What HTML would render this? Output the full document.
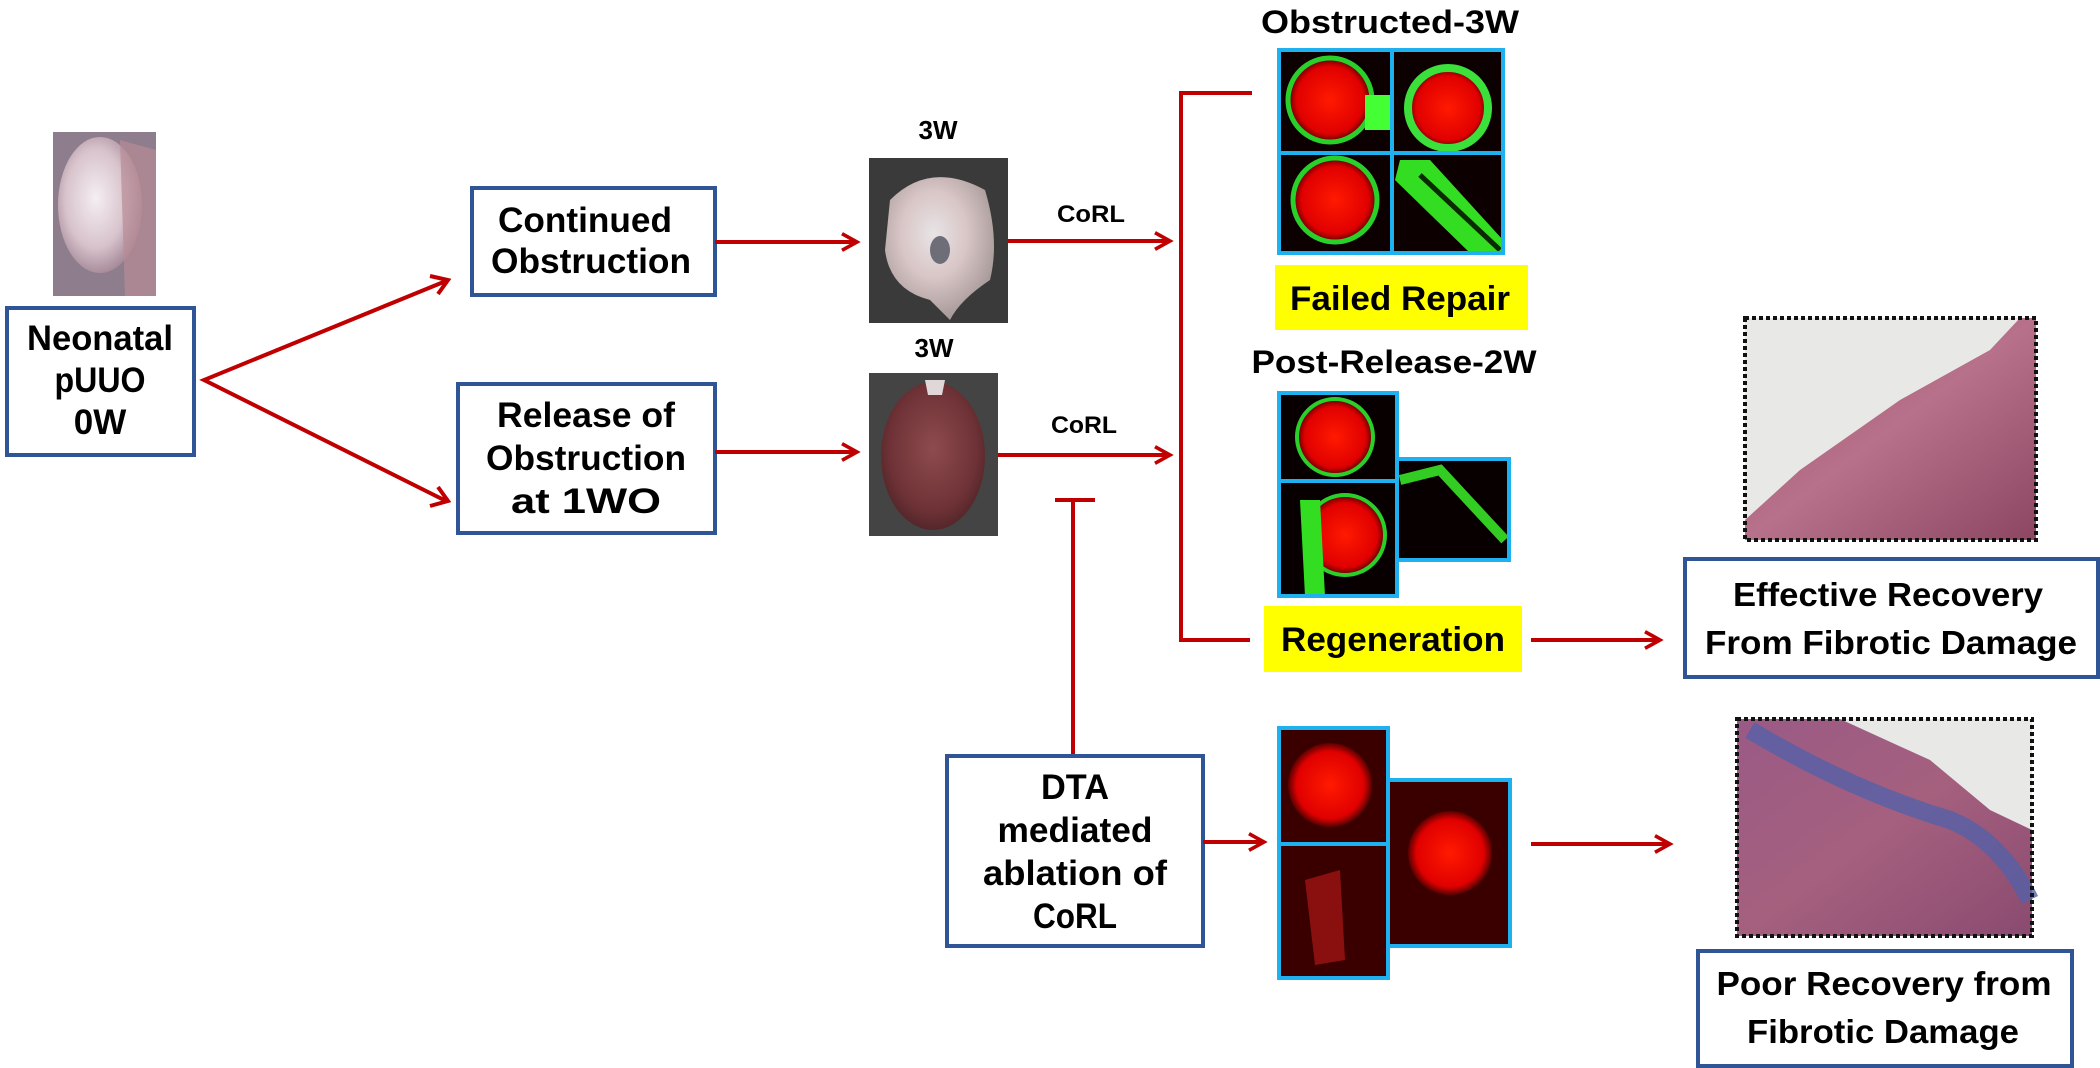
<!DOCTYPE html>
<html><head><meta charset="utf-8"><style>
html,body{margin:0;padding:0;background:#fff;}
svg{display:block;}
text{font-family:"Liberation Sans",Arial,sans-serif;font-weight:bold;fill:#000;}
</style></head><body>
<svg width="2100" height="1068" viewBox="0 0 2100 1068" xmlns="http://www.w3.org/2000/svg">
<defs>
<marker id="ah" viewBox="0 0 12 12" refX="10" refY="6" markerWidth="5" markerHeight="5" orient="auto" markerUnits="strokeWidth">
<path d="M1,1 L10,6 L1,11" fill="none" stroke="#c00000" stroke-width="2.2"/>
</marker>
<radialGradient id="k0" cx="0.45" cy="0.45" r="0.6"><stop offset="0" stop-color="#f4eef2"/><stop offset="0.6" stop-color="#d8c3cc"/><stop offset="1" stop-color="#9d8090"/></radialGradient>
<radialGradient id="k1" cx="0.45" cy="0.4" r="0.6"><stop offset="0" stop-color="#e8e4e6"/><stop offset="0.5" stop-color="#d9c6c6"/><stop offset="1" stop-color="#a89a9a"/></radialGradient>
<radialGradient id="k2" cx="0.5" cy="0.45" r="0.6"><stop offset="0" stop-color="#8e4b4e"/><stop offset="0.7" stop-color="#6e3236"/><stop offset="1" stop-color="#4a2226"/></radialGradient>
<radialGradient id="rg" cx="0.5" cy="0.5" r="0.5"><stop offset="0" stop-color="#ff1a00"/><stop offset="0.8" stop-color="#e00000"/><stop offset="1" stop-color="#5a0000"/></radialGradient>
<linearGradient id="he" x1="0" y1="0" x2="1" y2="1"><stop offset="0" stop-color="#a4506a"/><stop offset="0.5" stop-color="#b7718a"/><stop offset="1" stop-color="#8d4662"/></linearGradient>
<linearGradient id="he2" x1="0" y1="0" x2="1" y2="1"><stop offset="0" stop-color="#9a5a86"/><stop offset="0.5" stop-color="#a5607e"/><stop offset="1" stop-color="#8a4a70"/></linearGradient>
</defs>

<!-- Left photo -->
<rect x="53" y="132" width="103" height="164" fill="#8e7d8c"/>
<ellipse cx="100" cy="205" rx="42" ry="68" fill="url(#k0)"/>
<path d="M120,140 L156,150 L156,296 L125,296 Z" fill="#b88c96" opacity="0.7"/>

<!-- Neonatal box -->
<rect x="7" y="308" width="187" height="147" fill="#fff" stroke="#2f5597" stroke-width="4"/>
<text x="100" y="350" font-size="35" text-anchor="middle" textLength="146" lengthAdjust="spacingAndGlyphs">Neonatal</text>
<text x="100" y="392" font-size="35" text-anchor="middle" textLength="91" lengthAdjust="spacingAndGlyphs">pUUO</text>
<text x="100" y="434" font-size="35" text-anchor="middle">0W</text>

<!-- Fork arrows -->
<polyline points="446,281 204,380 446,501" fill="none" stroke="#c00000" stroke-width="4"/>
<path d="M430,276 L448,280 L438,294" fill="none" stroke="#c00000" stroke-width="4"/>
<path d="M430,506 L448,501 L438,487" fill="none" stroke="#c00000" stroke-width="4"/>

<!-- Continued box -->
<rect x="472" y="188" width="243" height="107" fill="#fff" stroke="#2f5597" stroke-width="4"/>
<text x="585" y="232" font-size="35" text-anchor="middle" textLength="174" lengthAdjust="spacingAndGlyphs">Continued</text>
<text x="591" y="273" font-size="35" text-anchor="middle" textLength="200" lengthAdjust="spacingAndGlyphs">Obstruction</text>

<!-- Release box -->
<rect x="458" y="384" width="257" height="149" fill="#fff" stroke="#2f5597" stroke-width="4"/>
<text x="586" y="427" font-size="35" text-anchor="middle" textLength="178" lengthAdjust="spacingAndGlyphs">Release of</text>
<text x="586" y="470" font-size="35" text-anchor="middle" textLength="200" lengthAdjust="spacingAndGlyphs">Obstruction</text>
<text x="586" y="513" font-size="35" text-anchor="middle" textLength="150" lengthAdjust="spacingAndGlyphs">at 1WO</text>

<!-- arrows to photos -->
<line x1="715" y1="242" x2="857" y2="242" stroke="#c00000" stroke-width="4" marker-end="url(#ah)"/>
<line x1="715" y1="452" x2="857" y2="452" stroke="#c00000" stroke-width="4" marker-end="url(#ah)"/>

<!-- 3W photos -->
<text x="938" y="139" font-size="26" text-anchor="middle">3W</text>
<rect x="869" y="158" width="139" height="165" fill="#3a3a3a"/>
<path d="M890,200 Q930,160 985,190 Q1000,240 990,280 Q960,300 950,320 L930,300 Q890,290 885,250 Z" fill="url(#k1)"/>
<ellipse cx="940" cy="250" rx="10" ry="14" fill="#6e6e78"/>
<text x="934" y="357" font-size="26" text-anchor="middle">3W</text>
<rect x="869" y="373" width="129" height="163" fill="#444"/>
<ellipse cx="933" cy="456" rx="52" ry="74" fill="url(#k2)"/>
<path d="M925,380 L945,380 L942,395 L928,395 Z" fill="#e0d8d8"/>

<!-- CoRL arrows -->
<text x="1091" y="222" font-size="24" text-anchor="middle" textLength="68" lengthAdjust="spacingAndGlyphs">CoRL</text>
<line x1="1008" y1="241" x2="1170" y2="241" stroke="#c00000" stroke-width="4" marker-end="url(#ah)"/>
<text x="1084" y="433" font-size="24" text-anchor="middle" textLength="66" lengthAdjust="spacingAndGlyphs">CoRL</text>
<line x1="998" y1="455" x2="1170" y2="455" stroke="#c00000" stroke-width="4" marker-end="url(#ah)"/>

<!-- Inhibitor -->
<line x1="1073" y1="500" x2="1073" y2="755" stroke="#c00000" stroke-width="4"/>
<line x1="1055" y1="500" x2="1095" y2="500" stroke="#c00000" stroke-width="4"/>

<!-- Bracket -->
<polyline points="1252,93 1181,93 1181,640 1250,640" fill="none" stroke="#c00000" stroke-width="4"/>

<!-- Obstructed-3W -->
<text x="1390" y="33" font-size="32" text-anchor="middle" textLength="258" lengthAdjust="spacingAndGlyphs">Obstructed-3W</text>
<g>
<rect x="1279" y="50" width="224" height="203" fill="#0c0000"/>
<circle cx="1330" cy="100" r="42" fill="url(#rg)" stroke="#2ad02a" stroke-width="5"/>
<rect x="1365" y="95" width="25" height="35" fill="#44ff33"/>
<circle cx="1448" cy="108" r="40" fill="url(#rg)" stroke="#3be03b" stroke-width="8"/>
<circle cx="1335" cy="200" r="42" fill="url(#rg)" stroke="#2ad02a" stroke-width="5"/>
<path d="M1400,160 L1430,160 L1503,240 L1503,253 L1470,253 L1395,180 Z" fill="#33dd22"/>
<path d="M1420,175 L1500,250" stroke="#0c2a00" stroke-width="5"/>
<rect x="1279" y="50" width="224" height="203" fill="none" stroke="#1fb0f0" stroke-width="4"/>
<line x1="1392" y1="50" x2="1392" y2="253" stroke="#1fb0f0" stroke-width="4"/>
<line x1="1279" y1="153" x2="1503" y2="153" stroke="#1fb0f0" stroke-width="4"/>
</g>

<!-- Failed Repair -->
<rect x="1275" y="265" width="253" height="65" fill="#ffff00"/>
<text x="1400" y="310" font-size="34" text-anchor="middle" textLength="220" lengthAdjust="spacingAndGlyphs">Failed Repair</text>

<!-- Post-Release -->
<text x="1394" y="373" font-size="32" text-anchor="middle" textLength="285" lengthAdjust="spacingAndGlyphs">Post-Release-2W</text>
<g>
<rect x="1397" y="459" width="112" height="101" fill="#080000"/>
<path d="M1400,480 L1440,470 L1505,540" stroke="#33cc22" stroke-width="10" fill="none"/>
<rect x="1397" y="459" width="112" height="101" fill="none" stroke="#1fb0f0" stroke-width="4"/>
<rect x="1279" y="393" width="118" height="203" fill="#080000"/>
<circle cx="1335" cy="437" r="38" fill="url(#rg)" stroke="#2ad02a" stroke-width="4"/>
<circle cx="1345" cy="535" r="40" fill="url(#rg)" stroke="#2ad02a" stroke-width="4"/>
<path d="M1300,500 L1320,500 L1325,596 L1305,596 Z" fill="#33dd22"/>
<rect x="1279" y="393" width="118" height="203" fill="none" stroke="#1fb0f0" stroke-width="4"/>
<line x1="1279" y1="481" x2="1397" y2="481" stroke="#1fb0f0" stroke-width="4"/>
</g>

<!-- Regeneration -->
<rect x="1264" y="606" width="258" height="66" fill="#ffff00"/>
<text x="1393" y="651" font-size="34" text-anchor="middle" textLength="224" lengthAdjust="spacingAndGlyphs">Regeneration</text>
<line x1="1531" y1="640" x2="1660" y2="640" stroke="#c00000" stroke-width="4" marker-end="url(#ah)"/>

<!-- Effective -->
<rect x="1745" y="318" width="291" height="222" fill="url(#he)"/>
<path d="M1745,318 L2020,318 L1990,350 L1900,400 L1800,470 L1745,520 Z" fill="#e8e8e6"/>
<rect x="1745" y="318" width="291" height="222" fill="none" stroke="#111" stroke-width="4" stroke-dasharray="4,3"/>
<rect x="1685" y="559" width="413" height="118" fill="#fff" stroke="#2f5597" stroke-width="4"/>
<text x="1888" y="606" font-size="33" text-anchor="middle" textLength="310" lengthAdjust="spacingAndGlyphs">Effective Recovery</text>
<text x="1891" y="654" font-size="33" text-anchor="middle" textLength="372" lengthAdjust="spacingAndGlyphs">From Fibrotic Damage</text>

<!-- DTA box -->
<rect x="947" y="756" width="256" height="190" fill="#fff" stroke="#2f5597" stroke-width="4"/>
<text x="1075" y="799" font-size="35" text-anchor="middle" textLength="68" lengthAdjust="spacingAndGlyphs">DTA</text>
<text x="1075" y="842" font-size="35" text-anchor="middle" textLength="155" lengthAdjust="spacingAndGlyphs">mediated</text>
<text x="1075" y="885" font-size="35" text-anchor="middle" textLength="184" lengthAdjust="spacingAndGlyphs">ablation  of</text>
<text x="1075" y="928" font-size="35" text-anchor="middle" textLength="84" lengthAdjust="spacingAndGlyphs">CoRL</text>
<line x1="1203" y1="842" x2="1264" y2="842" stroke="#c00000" stroke-width="4" marker-end="url(#ah)"/>

<!-- DTA grid -->
<g>
<rect x="1388" y="780" width="122" height="166" fill="#3a0000"/>
<circle cx="1450" cy="853" r="42" fill="url(#rg)"/>
<rect x="1388" y="780" width="122" height="166" fill="none" stroke="#1fb0f0" stroke-width="4"/>
<rect x="1279" y="728" width="109" height="250" fill="#3a0000"/>
<circle cx="1330" cy="785" r="42" fill="url(#rg)"/>
<path d="M1305,880 L1340,870 L1345,960 L1315,965 Z" fill="#8a1010"/>
<rect x="1279" y="728" width="109" height="250" fill="none" stroke="#1fb0f0" stroke-width="4"/>
<line x1="1279" y1="844" x2="1388" y2="844" stroke="#1fb0f0" stroke-width="4"/>
</g>
<line x1="1531" y1="844" x2="1670" y2="844" stroke="#c00000" stroke-width="4" marker-end="url(#ah)"/>

<!-- Poor -->
<rect x="1737" y="719" width="295" height="217" fill="url(#he2)"/>
<path d="M1840,719 L2032,719 L2032,830 L1990,810 L1930,760 Z" fill="#e8e8e6"/>
<path d="M1750,730 Q1850,790 1950,820 Q2000,840 2030,900" stroke="#5560a8" stroke-width="18" fill="none" opacity="0.8"/>
<rect x="1737" y="719" width="295" height="217" fill="none" stroke="#111" stroke-width="4" stroke-dasharray="4,3"/>
<rect x="1698" y="951" width="374" height="115" fill="#fff" stroke="#2f5597" stroke-width="4"/>
<text x="1884" y="995" font-size="33" text-anchor="middle" textLength="335" lengthAdjust="spacingAndGlyphs">Poor Recovery from</text>
<text x="1883" y="1043" font-size="33" text-anchor="middle" textLength="272" lengthAdjust="spacingAndGlyphs">Fibrotic Damage</text>
</svg>
</body></html>
